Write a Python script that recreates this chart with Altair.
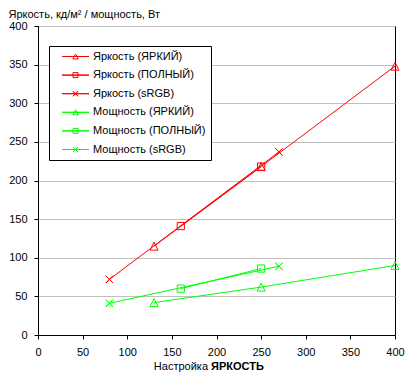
import altair as alt
import pandas as pd

names = ["Яркость (ЯРКИЙ)", "Яркость (ПОЛНЫЙ)", "Яркость (sRGB)",
         "Мощность (ЯРКИЙ)", "Мощность (ПОЛНЫЙ)", "Мощность (sRGB)"]
colors = ["#FF0000", "#FF0000", "#FF0000", "#00FF00", "#00FF00", "#00FF00"]

x_yarkiy = [130, 250, 400]
x_polny = [160, 250]
x_srgb = [80, 270]
bright_yarkiy = [115, 218, 348]
bright_polny = [141, 218]
bright_srgb = [72, 237]
power_yarkiy = [42, 62, 90]
power_polny = [60, 86]
power_srgb = [41, 89]

x_ticks = [0, 50, 100, 150, 200, 250, 300, 350, 400]
y_ticks = [0, 50, 100, 150, 200, 250, 300, 350, 400]

rows = []
for name, xs, ys in zip(names,
                        [x_yarkiy, x_polny, x_srgb, x_yarkiy, x_polny, x_srgb],
                        [bright_yarkiy, bright_polny, bright_srgb,
                         power_yarkiy, power_polny, power_srgb]):
    for xv, yv in zip(xs, ys):
        rows.append({"x": xv, "y": yv, "series": name, "lseries": name})
df = pd.DataFrame(rows)

FONT = "Liberation Sans"

TRI = "M0,-1L1,1L-1,1Z"
SQ = "M-0.9,-0.9L0.9,-0.9L0.9,0.9L-0.9,0.9Z"
XX = "M-0.9,-0.9L0.9,0.9ZM-0.9,0.9L0.9,-0.9Z"
plot_shapes = [TRI, SQ, XX, TRI, SQ, XX]

LN = "M-2.7,0L2.7,0Z"
LTRI = LN + "M0,-0.5L0.55,0.5L-0.55,0.5Z"
LSQ = LN + "M-0.5,-0.5L0.5,-0.5L0.5,0.5L-0.5,0.5Z"
LXX = LN + "M-0.5,-0.5L0.5,0.5ZM-0.5,0.5L0.5,-0.5Z"
legend_shapes = [LTRI, LSQ, LXX, LTRI, LSQ, LXX]

W, H = 357, 309

xenc = alt.X("x:Q", scale=alt.Scale(domain=[0, 400], nice=False),
             axis=alt.Axis(values=x_ticks, title=None, grid=False, tickSize=4,
                           labelPadding=7, labelFont=FONT, labelFontSize=11,
                           labelColor="black", domainColor="black", tickColor="black",
                           labelFlush=False))
yenc = alt.Y("y:Q", scale=alt.Scale(domain=[0, 400], nice=False),
             axis=alt.Axis(values=y_ticks, title="Яркость, кд/м² / мощность, Вт",
                           titleAngle=0, titleAlign="left", titleBaseline="alphabetic",
                           titleX=-30, titleY=-9, titleFont=FONT, titleFontSize=11,
                           titleFontWeight="normal", titleColor="black",
                           grid=True, gridColor="#C0C0C0", gridWidth=1, tickSize=4,
                           labelPadding=7, labelFont=FONT, labelFontSize=11,
                           labelColor="black", domainColor="black", tickColor="black"))

color_plot = alt.Color("series:N", scale=alt.Scale(domain=names, range=colors), legend=None)

lines = alt.Chart(df).mark_line(strokeWidth=1).encode(x=xenc, y=yenc, color=color_plot)

points = alt.Chart(df).mark_point(filled=False, strokeWidth=1, size=64, opacity=1).encode(
    x=xenc, y=yenc, color=color_plot,
    shape=alt.Shape("series:N", scale=alt.Scale(domain=names, range=plot_shapes), legend=None))

leg = alt.Legend(title=None, orient="none", legendX=11, legendY=20,
                 strokeColor="black", fillColor="white", padding=5,
                 labelFont=FONT, labelFontSize=11, labelColor="black",
                 symbolSize=100, symbolStrokeWidth=1, labelOffset=12,
                 rowPadding=6.6, symbolOffset=16)

legend_layer = alt.Chart(df).transform_filter("false").mark_point(
    filled=False, strokeWidth=1, size=100, opacity=1).encode(
    x=xenc, y=yenc,
    color=alt.Color("lseries:N", scale=alt.Scale(domain=names, range=colors), legend=leg),
    shape=alt.Shape("lseries:N", scale=alt.Scale(domain=names, range=legend_shapes), legend=leg))

title_df1 = pd.DataFrame({"t": ["Настройка"]})
title_df2 = pd.DataFrame({"t": ["ЯРКОСТЬ"]})
t1 = alt.Chart(title_df1).mark_text(font=FONT, fontSize=11, align="right",
                                    baseline="alphabetic", color="black").encode(
    x=alt.value(170), y=alt.value(H + 35), text="t:N")
t2 = alt.Chart(title_df2).mark_text(font=FONT, fontSize=11, align="left",
                                    baseline="alphabetic", fontWeight="bold",
                                    color="black").encode(
    x=alt.value(173), y=alt.value(H + 35), text="t:N")

chart = alt.layer(lines, points, legend_layer, t1, t2).resolve_scale(
    color="independent", shape="independent").properties(
    width=W, height=H, padding=0, background="white"
).configure_view(stroke="black", strokeWidth=1)

chart.save("out.html", embed_options={"renderer": "svg", "actions": False})
